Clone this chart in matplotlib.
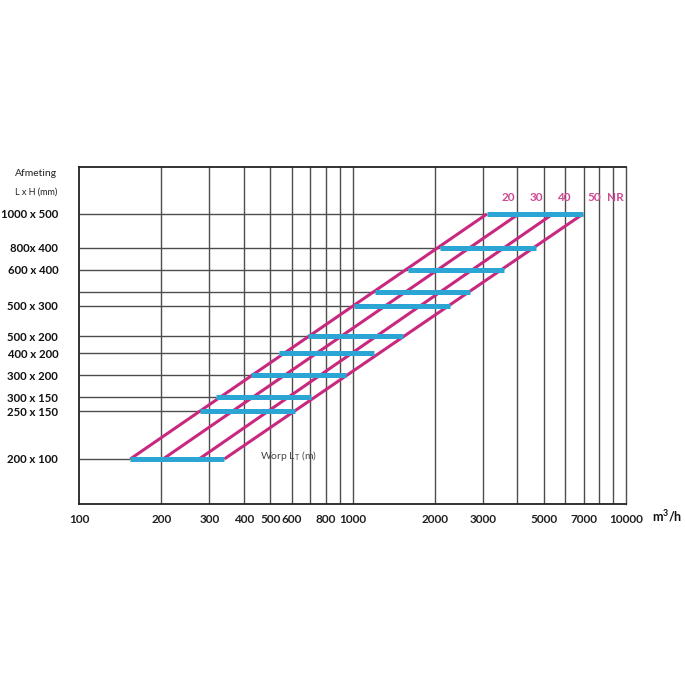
import matplotlib
matplotlib.use("Agg")
import matplotlib.pyplot as plt
import numpy as np

plt.rcParams['font.family'] = ['Lato', 'DejaVu Sans']
plt.rcParams['mathtext.fontset'] = 'custom'
plt.rcParams['mathtext.rm'] = 'Lato'
plt.rcParams['mathtext.bf'] = 'Lato:bold'

# Duct sizes (L x H in mm), top to bottom
size_L = [1000, 800, 600, 600, 500, 500, 400, 300, 300, 250, 200]
size_H = [500, 400, 400, 300, 300, 200, 200, 200, 150, 150, 100]
size_labels = ["1000 x 500", "800x 400", "600 x 400", "", "500 x 300", "500 x 200",
               "400 x 200", "300 x 200", "300 x 150", "250 x 150", "200 x 100"]

# Air flow range (m3/h) per size: start / end of the cyan bar
bar_start = [3100, 2090, 1600, 1206, 1015, 686, 537, 425, 317, 277, 154]
bar_end = [6960, 4690, 3580, 2700, 2266, 1530, 1194, 945, 703, 614, 340]

# Throw lines (Worp L_T): flow at smallest size (200x100) and largest size (1000x500)
throw_labels = ["20", "30", "40", "50"]
throw_low = [154, 203, 275, 340]
throw_high = [3100, 4050, 5400, 6960]
label_names = ["20", "30", "40", "50", "NR"]
label_flow = [3728, 4721, 5929, 7636, 9120]

x_grid = [200, 300, 400, 500, 600, 700, 800, 900, 1000,
          2000, 3000, 4000, 5000, 6000, 7000, 8000, 9000]
x_ticks = [100, 200, 300, 400, 500, 600, 800, 1000, 2000, 3000, 5000, 7000, 10000]

MAG = "#c8287e"
CYAN = "#2ba5d3"
PINK = "#cf4a92"
GRID = "#4d4d4d"

area = [l * h for l, h in zip(size_L, size_H)]

fig = plt.figure(figsize=(6.85, 6.85), dpi=100)
ax = fig.add_axes([79/685, 1-504/685, (626-79)/685, (504-167)/685])
ax.set_xscale('log')
ax.set_yscale('log')
ax.set_xlim(100, 10000)
ax.set_ylim(11070, 927000)

for xv in x_grid:
    ax.axvline(xv, color=GRID, lw=1.0, zorder=1)

ax.hlines(area, 100, bar_start, color=GRID, lw=1.0, zorder=1)

a_min, a_max = min(area), max(area)
for lo, hi in zip(throw_low, throw_high):
    ax.plot([lo, hi], [a_min, a_max], color=MAG, lw=2.2, zorder=2, solid_capstyle='butt')

ax.hlines(area, bar_start, bar_end, color=CYAN, lw=3.6, zorder=3)

for name, fx in zip(label_names, label_flow):
    ax.text(fx, 625000, name, color=PINK, fontsize=8.5, fontweight='bold',
            ha='center', va='center')

ax.text(460, 20800, r"Worp L$_\mathregular{T}$ (m)", color="#444444", fontsize=7.5,
        ha='left', va='center')

ax.set_xticks(x_ticks)
ax.set_xticklabels([str(v) for v in x_ticks], fontsize=8.5, fontweight='bold', color="#222222")
ax.xaxis.set_minor_locator(matplotlib.ticker.NullLocator())
ax.set_yticks(area)
ax.set_yticklabels(size_labels, fontsize=8.2, fontweight='bold', color="#111111")
ax.yaxis.set_minor_locator(matplotlib.ticker.NullLocator())
ax.tick_params(axis='both', length=0)
ax.tick_params(axis='x', pad=7)
ax.tick_params(axis='y', pad=15)

for s in ax.spines.values():
    s.set_color("#222222")
    s.set_linewidth(1.3)
ax.spines['right'].set_color(GRID)
ax.spines['right'].set_linewidth(1.0)

fig.text(57/685, 1-174/685, "Afmeting", ha='right', va='center', fontsize=7.5, color="#222222")
fig.text(57/685, 1-192/685, "L x H (mm)", ha='right', va='center', fontsize=6.5, color="#222222")
fig.text(652/685, 1-516/685, r"m$^{\mathbf{3}}$/h", ha='left', va='center', fontsize=9,
         fontweight='bold', color="#111111")

fig.savefig("out.png", dpi=100, facecolor='white')
